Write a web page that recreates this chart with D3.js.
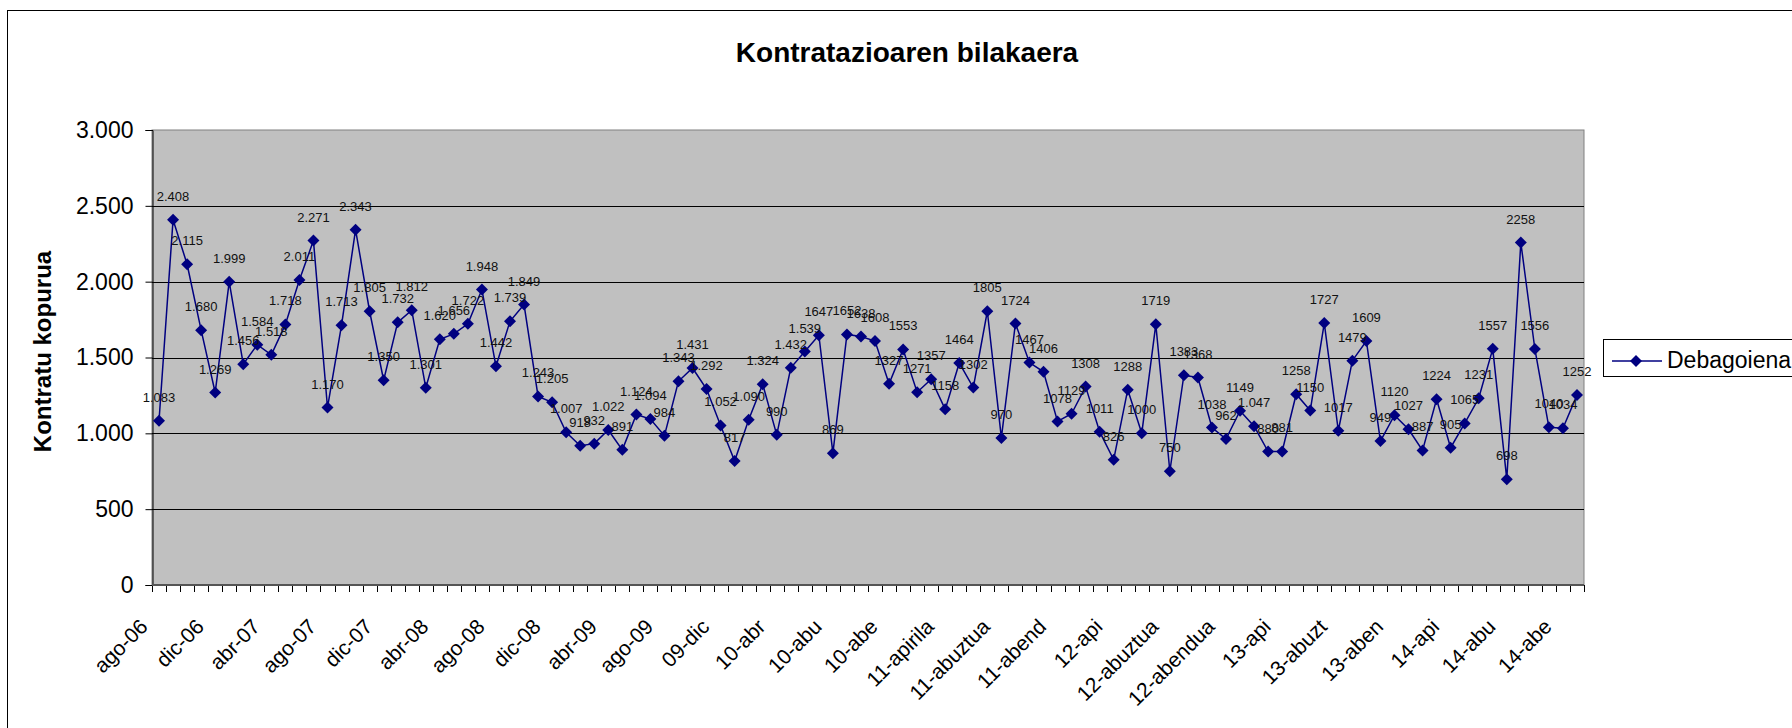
<!DOCTYPE html>
<html>
<head>
<meta charset="utf-8">
<script src="https://cdn.jsdelivr.net/npm/d3@7"></script>
<style>
  body { margin: 0; background: #fff; }
  svg { display: block; font-family: 'Liberation Sans', Arial, sans-serif; }
</style>
</head>
<body>
<svg id="chart" width="1792" height="728"></svg>
<script>
// monthly contracts, ago-06 .. urt-15
const values = [
  1083, 2408, 2115, 1680, 1269, 1999, 1456, 1584, 1518, 1718, 2011, 2271,
  1170, 1713, 2343, 1805, 1350, 1732, 1812, 1301, 1620, 1656, 1722, 1948,
  1442, 1739, 1849, 1243, 1205, 1007, 918, 932, 1022, 891, 1124, 1094,
  984, 1343, 1431, 1292, 1052, 817, 1090, 1324, 990, 1432, 1539, 1647,
  869, 1652, 1638, 1608, 1327, 1553, 1271, 1357, 1158, 1464, 1302, 1805,
  970, 1724, 1467, 1406, 1078, 1129, 1308, 1011, 826, 1288, 1000, 1719,
  750, 1383, 1368, 1038, 962, 1149, 1047, 880, 881, 1258, 1150, 1727,
  1017, 1479, 1609, 949, 1120, 1027, 887, 1224, 905, 1065, 1231, 1557,
  698, 2258, 1556, 1040, 1034, 1252
]

// one label every 4 months
const tickLabels = [
  'ago-06', 'dic-06', 'abr-07', 'ago-07', 'dic-07', 'abr-08', 'ago-08',
  'dic-08', 'abr-09', 'ago-09', '09-dic', '10-abr', '10-abu', '10-abe',
  '11-apirila', '11-abuztua', '11-abend', '12-api', '12-abuztua',
  '12-abendua', '13-api', '13-abuzt', '13-aben', '14-api', '14-abu', '14-abe'
]
const tickStep = 4

const yTicks = [0, 500, 1000, 1500, 2000, 2500, 3000]

// later labels lost their thousands dot in the source sheet
const plainLabelFrom = 47
const dottedLate = [78]

const seriesName = 'Debagoiena'
const title = 'Kontratazioaren bilakaera'
const yTitle = 'Kontratu kopurua'

const svg = d3.select('#chart')
const m = { left: 152, right: 1584, top: 130, bottom: 585 }

const es = d3.formatLocale({ decimal: ',', thousands: '.', grouping: [3], currency: ['', '€'] })
const fmtDot = es.format(',d')

const x = d3.scaleBand().domain(d3.range(values.length)).range([m.left, m.right]).padding(0)
const y = d3.scaleLinear().domain([0, 3000]).range([m.bottom, m.top])
const cx = i => x(i) + x.bandwidth() / 2
const marker = d3.symbol().type(d3.symbolSquare).size(72)

// outer chart frame
svg.append('rect')
  .attr('x', 7.5).attr('y', 10.5).attr('width', 1900).attr('height', 900)
  .attr('fill', 'none').attr('stroke', '#000').attr('stroke-width', 1)

svg.append('text')
  .attr('x', 907).attr('y', 62)
  .attr('text-anchor', 'middle')
  .attr('font-size', 28).attr('font-weight', 'bold')
  .text(title)

// plot area
svg.append('rect')
  .attr('x', m.left).attr('y', m.top)
  .attr('width', m.right - m.left).attr('height', m.bottom - m.top)
  .attr('fill', '#c0c0c0').attr('stroke', '#808080').attr('stroke-width', 1)

svg.append('g')
  .selectAll('line')
  .data(yTicks.filter(d => d > 0 && d < 3000))
  .join('line')
  .attr('x1', m.left).attr('x2', m.right)
  .attr('y1', d => Math.round(y(d)) + 0.5).attr('y2', d => Math.round(y(d)) + 0.5)
  .attr('stroke', '#000')

// y axis
const yAxis = svg.append('g')
  .attr('transform', `translate(${m.left + 0.5},0)`)
  .call(d3.axisLeft(y).tickValues(yTicks).tickSize(7).tickPadding(12).tickFormat(fmtDot))
yAxis.select('.domain').attr('stroke', '#000')
yAxis.selectAll('.tick line').attr('stroke', '#000')
yAxis.selectAll('.tick text')
  .attr('font-size', 23).attr('fill', '#000')
  .attr('font-family', "'Liberation Sans', Arial, sans-serif")

// x axis: ticks on category boundaries
const bounds = d3.range(values.length + 1).map(i => m.left + i * x.bandwidth())
svg.append('g')
  .selectAll('line')
  .data(bounds)
  .join('line')
  .attr('x1', d => Math.round(d) + 0.5).attr('x2', d => Math.round(d) + 0.5)
  .attr('y1', m.bottom).attr('y2', m.bottom + 7)
  .attr('stroke', '#000')
svg.append('line')
  .attr('x1', m.left).attr('x2', m.right)
  .attr('y1', m.bottom).attr('y2', m.bottom)
  .attr('stroke', '#555').attr('stroke-width', 2)

svg.append('g')
  .selectAll('text')
  .data(tickLabels)
  .join('text')
  .attr('transform', (d, i) => `translate(${cx(i * tickStep) - 10},628) rotate(-45)`)
  .attr('text-anchor', 'end')
  .attr('font-size', 21)
  .text(d => d)

svg.append('text')
  .attr('transform', `translate(51,${(m.top + m.bottom) / 2 - 6}) rotate(-90)`)
  .attr('text-anchor', 'middle')
  .attr('font-size', 24).attr('font-weight', 'bold')
  .text(yTitle)

// series
const line = d3.line().x((d, i) => cx(i)).y(d => y(d))
svg.append('path')
  .datum(values)
  .attr('d', line)
  .attr('fill', 'none').attr('stroke', '#000080').attr('stroke-width', 1.5)

svg.append('g')
  .selectAll('path')
  .data(values)
  .join('path')
  .attr('transform', (d, i) => `translate(${cx(i)},${y(d)}) rotate(45)`)
  .attr('d', marker)
  .attr('fill', '#000080')

const labelText = (d, i) =>
  d >= 1000 && (i < plainLabelFrom || dottedLate.includes(i)) ? fmtDot(d) : String(d)

svg.append('g')
  .selectAll('text')
  .data(values)
  .join('text')
  .attr('x', (d, i) => cx(i))
  .attr('y', d => y(d) - 19)
  .attr('text-anchor', 'middle')
  .attr('font-size', 13)
  .attr('fill', '#111')
  .text(labelText)

// legend
const lg = svg.append('g').attr('transform', 'translate(1603,339)')
lg.append('rect')
  .attr('x', 0.5).attr('y', 0.5).attr('width', 400).attr('height', 37)
  .attr('fill', '#fff').attr('stroke', '#000')
lg.append('line')
  .attr('x1', 9).attr('x2', 59).attr('y1', 22).attr('y2', 22)
  .attr('stroke', '#000080').attr('stroke-width', 1.5)
lg.append('path')
  .attr('transform', 'translate(33,22) rotate(45)')
  .attr('d', marker)
  .attr('fill', '#000080')
lg.append('text')
  .attr('x', 64).attr('y', 29)
  .attr('font-size', 23)
  .text(seriesName)
</script>
</body>
</html>
